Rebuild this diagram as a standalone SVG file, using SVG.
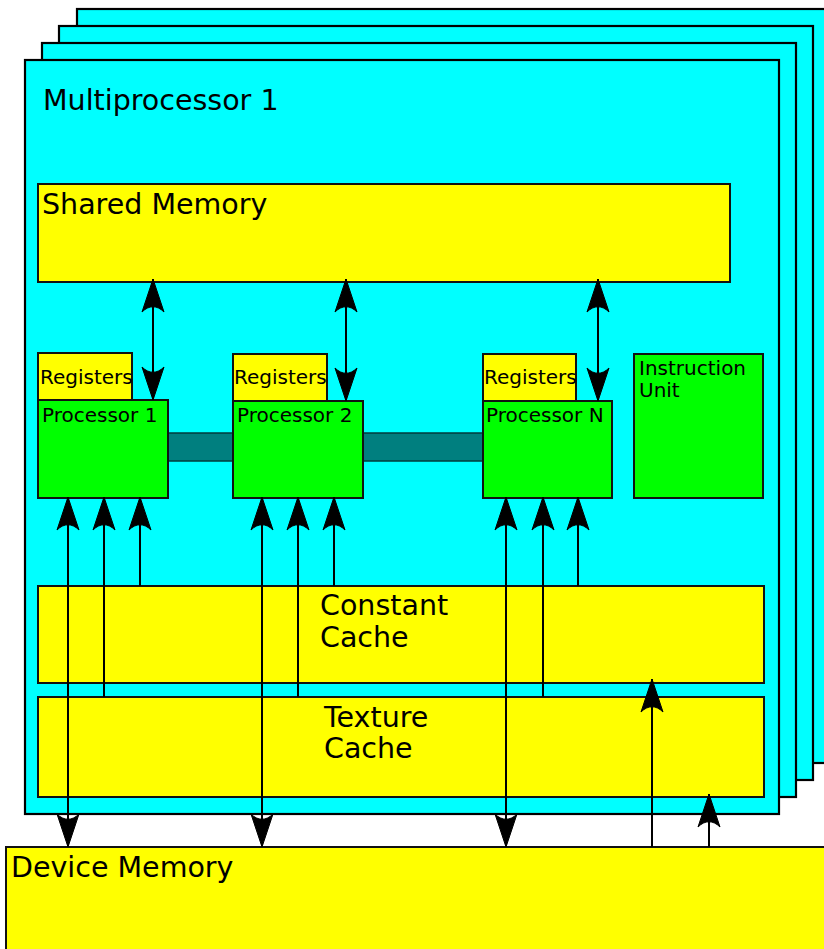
<svg xmlns="http://www.w3.org/2000/svg" width="824" height="949" viewBox="0 0 824 949">
<style>
  .frame { fill: #00ffff; stroke: #000; stroke-width: 2.2; }
  .mem { fill: #ffff00; stroke: #111; stroke-width: 2; }
  .proc { fill: #00ff00; stroke: #111; stroke-width: 2; }
  .bus { fill: #007f7f; stroke: #003c3c; stroke-width: 1.5; }
  .big { font-family: "DejaVu Sans", "Liberation Sans", sans-serif; font-size: 28.5px; fill: #000; }
  .small { font-family: "DejaVu Sans", "Liberation Sans", sans-serif; font-size: 20px; fill: #000; }
  .conn line { stroke: #000; stroke-width: 2; fill: none; }
</style>
<defs>
  <marker id="ah" viewBox="-36 -13 37 26" refX="0" refY="0" markerWidth="37" markerHeight="26" markerUnits="userSpaceOnUse" orient="auto-start-reverse">
    <path d="M0,0 L-33,-11 C-26,-4 -26,4 -33,11 Z" fill="#000" stroke="#000" stroke-width="1" stroke-linejoin="miter"/>
  </marker>
</defs>
<rect x="0" y="0" width="824" height="949" fill="#ffffff"/>
<g id="frame4"><rect class="frame" x="77" y="9" width="754" height="754"/></g>
<g id="frame3"><rect class="frame" x="59" y="26" width="754" height="754"/></g>
<g id="frame2"><rect class="frame" x="42" y="43" width="754" height="754"/></g>
<g id="multiprocessor1">
  <rect class="frame" x="25" y="60" width="754" height="754"/>
  <text class="big" x="43" y="110">Multiprocessor 1</text>
</g>
<g id="shared-memory">
  <rect class="mem" x="38" y="184" width="692" height="98"/>
  <text class="big" x="42" y="214">Shared Memory</text>
</g>
<g id="bus"><rect class="bus" x="160" y="433" width="330" height="28"/></g>
<g id="registers1">
  <rect class="mem" x="38" y="353" width="94" height="47"/>
  <text class="small" x="40" y="384">Registers</text>
</g>
<g id="processor1">
  <rect class="proc" x="38" y="400" width="130" height="98"/>
  <text class="small" x="42" y="422">Processor 1</text>
</g>
<g id="registers2">
  <rect class="mem" x="233" y="354" width="94" height="47"/>
  <text class="small" x="234" y="384">Registers</text>
</g>
<g id="processor2">
  <rect class="proc" x="233" y="401" width="130" height="97"/>
  <text class="small" x="237" y="422">Processor 2</text>
</g>
<g id="registersN">
  <rect class="mem" x="483" y="354" width="93" height="47"/>
  <text class="small" x="484" y="384">Registers</text>
</g>
<g id="processorN">
  <rect class="proc" x="483" y="401" width="129" height="97"/>
  <text class="small" x="486" y="422">Processor N</text>
</g>
<g id="instruction-unit">
  <rect class="proc" x="634" y="354" width="129" height="144"/>
  <text class="small" x="639" y="375">Instruction</text>
  <text class="small" x="639" y="397">Unit</text>
</g>
<g id="constant-cache">
  <rect class="mem" x="38" y="586" width="726" height="97"/>
  <text class="big" x="320" y="615">Constant</text>
  <text class="big" x="320" y="647">Cache</text>
</g>
<g id="texture-cache">
  <rect class="mem" x="38" y="697" width="726" height="100"/>
  <text class="big" x="324" y="727">Texture</text>
  <text class="big" x="324" y="758">Cache</text>
</g>
<g id="device-memory">
  <rect class="mem" x="6" y="847" width="830" height="120"/>
  <text class="big" x="11" y="877">Device Memory</text>
</g>
<g id="connectors" class="conn">
  <line x1="153" y1="279" x2="153" y2="400" marker-start="url(#ah)" marker-end="url(#ah)"/>
  <line x1="346" y1="279" x2="346" y2="401" marker-start="url(#ah)" marker-end="url(#ah)"/>
  <line x1="598" y1="279" x2="598" y2="401" marker-start="url(#ah)" marker-end="url(#ah)"/>
  <line x1="68" y1="847" x2="68" y2="497" marker-start="url(#ah)" marker-end="url(#ah)"/>
  <line x1="104" y1="697" x2="104" y2="497" marker-end="url(#ah)"/>
  <line x1="140" y1="586" x2="140" y2="497" marker-end="url(#ah)"/>
  <line x1="262" y1="847" x2="262" y2="497" marker-start="url(#ah)" marker-end="url(#ah)"/>
  <line x1="298" y1="697" x2="298" y2="497" marker-end="url(#ah)"/>
  <line x1="334" y1="586" x2="334" y2="497" marker-end="url(#ah)"/>
  <line x1="506" y1="847" x2="506" y2="497" marker-start="url(#ah)" marker-end="url(#ah)"/>
  <line x1="543" y1="697" x2="543" y2="497" marker-end="url(#ah)"/>
  <line x1="578" y1="586" x2="578" y2="497" marker-end="url(#ah)"/>
  <line x1="652" y1="847" x2="652" y2="679" marker-end="url(#ah)"/>
  <line x1="709" y1="847" x2="709" y2="794" marker-end="url(#ah)"/>
</g>
</svg>
